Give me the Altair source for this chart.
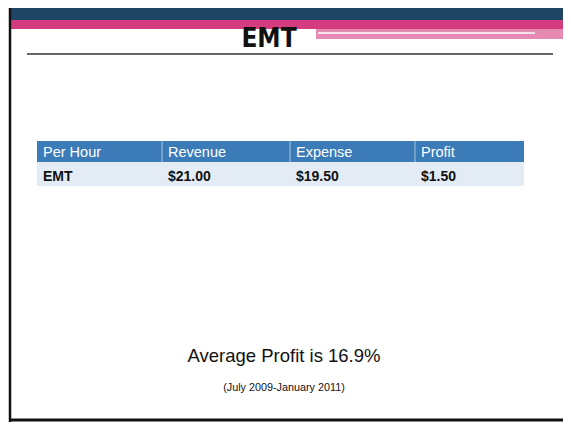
import altair as alt
import pandas as pd

# ---- data ----
title = "EMT"
headers = ["Per Hour", "Revenue", "Expense", "Profit"]
row_values = ["EMT", "$21.00", "$19.50", "$1.50"]
summary = "Average Profit is 16.9%"
period = "(July 2009-January 2011)"

cells = []
for r, labels in enumerate([headers, row_values]):
    for i, lab in enumerate(labels):
        cells.append({"r": r, "r1": r + 1, "i": i, "i1": i + 1, "label": lab})
df = pd.DataFrame(cells)

W, H = 555, 414
NAVY = "#1e4564"
PINK = "#d43c7f"
LPINK = "#e68ab4"
HEAD = "#3b7bb8"
ROW = "#e3ebf4"
FONT = "Liberation Sans"

xs = alt.Scale(domain=[0, 1, 2, 3, 4], range=[29, 154, 282, 407, 516], nice=False, zero=False)
ys = alt.Scale(domain=[0, 1, 2], range=[133, 154, 178], nice=False, zero=False)

one = alt.Data(values=[{}])


def box(x, x2, y, y2, color):
    return alt.Chart(one).mark_rect(color=color).encode(
        x=alt.value(x), x2=alt.value(x2), y=alt.value(y), y2=alt.value(y2)
    )


def hrule(x, x2, y, color, w):
    return alt.Chart(one).mark_rule(color=color, strokeWidth=w).encode(
        x=alt.value(x), x2=alt.value(x2), y=alt.value(y)
    )


navy = box(2, W, 0, 12, NAVY)
pink = box(2, W, 12, 21, PINK)
lpink = box(308, W, 21, 31, LPINK)
wline = hrule(310, 527, 25, "white", 1.5)
left_border = alt.Chart(one).mark_rule(color="#111", strokeWidth=2.5).encode(
    x=alt.value(2), y=alt.value(0), y2=alt.value(H)
)
bottom_border = hrule(2, W, 412, "#111", 3)
sep_line = hrule(19, 545, 46, "#333", 1.5)

title_t = alt.Chart(one).mark_text(
    text=title, font="Liberation Sans Narrow, DejaVu Sans Condensed, sans-serif",
    fontWeight="bold", fontSize=26, align="center", baseline="alphabetic", color="#111"
).encode(x=alt.value(261), y=alt.value(39))

summary_t = alt.Chart(one).mark_text(
    text=summary, font=FONT, fontSize=18.5, align="center", baseline="alphabetic", color="#111"
).encode(x=alt.value(276), y=alt.value(354))

period_t = alt.Chart(one).mark_text(
    text=period, font=FONT, fontSize=10.8, align="center", baseline="alphabetic", color="#111"
).encode(x=alt.value(276), y=alt.value(383))

base = alt.Chart(df)
X = alt.X("i:Q", scale=xs, axis=None)
Y = alt.Y("r:Q", scale=ys, axis=None)

head_rect = base.transform_filter("datum.r == 0").mark_rect(color=HEAD).encode(
    x=X, x2="i1:Q", y=Y, y2="r1:Q"
)
row_rect = base.transform_filter("datum.r == 1").mark_rect(color=ROW).encode(
    x=X, x2="i1:Q", y=Y, y2="r1:Q"
)
head_sep = base.transform_filter("datum.r == 0 && datum.i > 0").mark_rule(
    color="#a9c7e3", strokeWidth=1
).encode(x=X, y=Y, y2="r1:Q")
head_text = base.transform_filter("datum.r == 0").mark_text(
    font=FONT, fontSize=14.5, color="white", align="left", baseline="alphabetic", dx=6, dy=16
).encode(x=X, y=Y, text="label:N")
row_text = base.transform_filter("datum.r == 1").mark_text(
    font=FONT, fontSize=14, fontWeight="bold", color="#111", align="left", baseline="alphabetic", dx=6, dy=19
).encode(x=X, y=Y, text="label:N")

chart = alt.layer(
    navy, pink, lpink, wline, left_border, bottom_border, sep_line, title_t,
    head_rect, row_rect, head_sep, head_text, row_text, summary_t, period_t
).properties(
    width=W, height=H, padding=0, autosize="none", background="white"
).configure_view(stroke=None)

chart.save("out.html", embed_options={"renderer": "svg", "actions": False})
